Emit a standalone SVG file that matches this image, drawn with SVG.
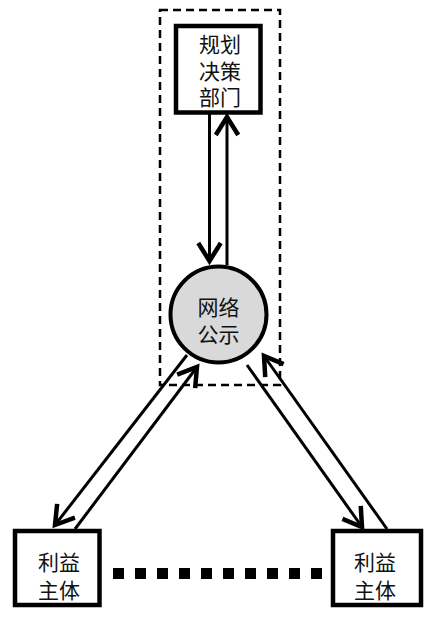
<svg xmlns="http://www.w3.org/2000/svg" width="427" height="618" viewBox="0 0 427 618">
<style>
.box{fill:#fff;stroke:#000;stroke-width:4.5}
.t{font-family:"Noto Sans CJK SC","Noto Sans",sans-serif;font-size:21px;fill:#111;text-anchor:middle;dominant-baseline:central}
.c{stroke:#000;stroke-width:3;fill:none}
</style>
<defs>
<marker id="ah" markerUnits="userSpaceOnUse" markerWidth="30" markerHeight="30" viewBox="-16 -10 20 20" refX="0" refY="0" orient="auto">
<path d="M -12 -7.5 L 0 0 L -12 7.5" fill="none" stroke="#000" stroke-width="3"/>
</marker>
</defs>
<rect id="frame" x="160" y="10" width="120" height="375" fill="none" stroke="#000" stroke-width="2.5" stroke-dasharray="8 5"/>
<g id="connectors">
<line class="c" x1="209.5" y1="114" x2="209.5" y2="261" marker-end="url(#ah)"/>
<line class="c" x1="227" y1="265" x2="227" y2="117" marker-end="url(#ah)"/>
<line class="c" x1="187" y1="355" x2="55" y2="525" marker-end="url(#ah)"/>
<line class="c" x1="75" y1="529" x2="197" y2="367" marker-end="url(#ah)"/>
<line class="c" x1="247" y1="365" x2="362" y2="527" marker-end="url(#ah)"/>
<line class="c" x1="387" y1="529" x2="264" y2="356" marker-end="url(#ah)"/>
<line x1="113" y1="573.5" x2="322" y2="573.5" stroke="#000" stroke-width="11" stroke-dasharray="11 11"/>
</g>
<g id="planning">
<rect class="box" x="176" y="26" width="84.5" height="86.5"/>
<text class="t" x="220" y="43">规划</text>
<text class="t" x="220" y="70">决策</text>
<text class="t" x="220" y="96">部门</text>
</g>
<g id="publicity">
<circle cx="218.5" cy="314.5" r="48" fill="#d9d9d9" stroke="#000" stroke-width="4"/>
<text class="t" x="218.5" y="305.5">网络</text>
<text class="t" x="218.5" y="332.5">公示</text>
</g>
<g id="stakeholder-left">
<rect class="box" x="15" y="531" width="84.5" height="74"/>
<text class="t" x="59" y="561">利益</text>
<text class="t" x="59" y="589">主体</text>
</g>
<g id="stakeholder-right">
<rect class="box" x="333" y="531" width="88" height="74"/>
<text class="t" x="375" y="561">利益</text>
<text class="t" x="375" y="589">主体</text>
</g>
</svg>
